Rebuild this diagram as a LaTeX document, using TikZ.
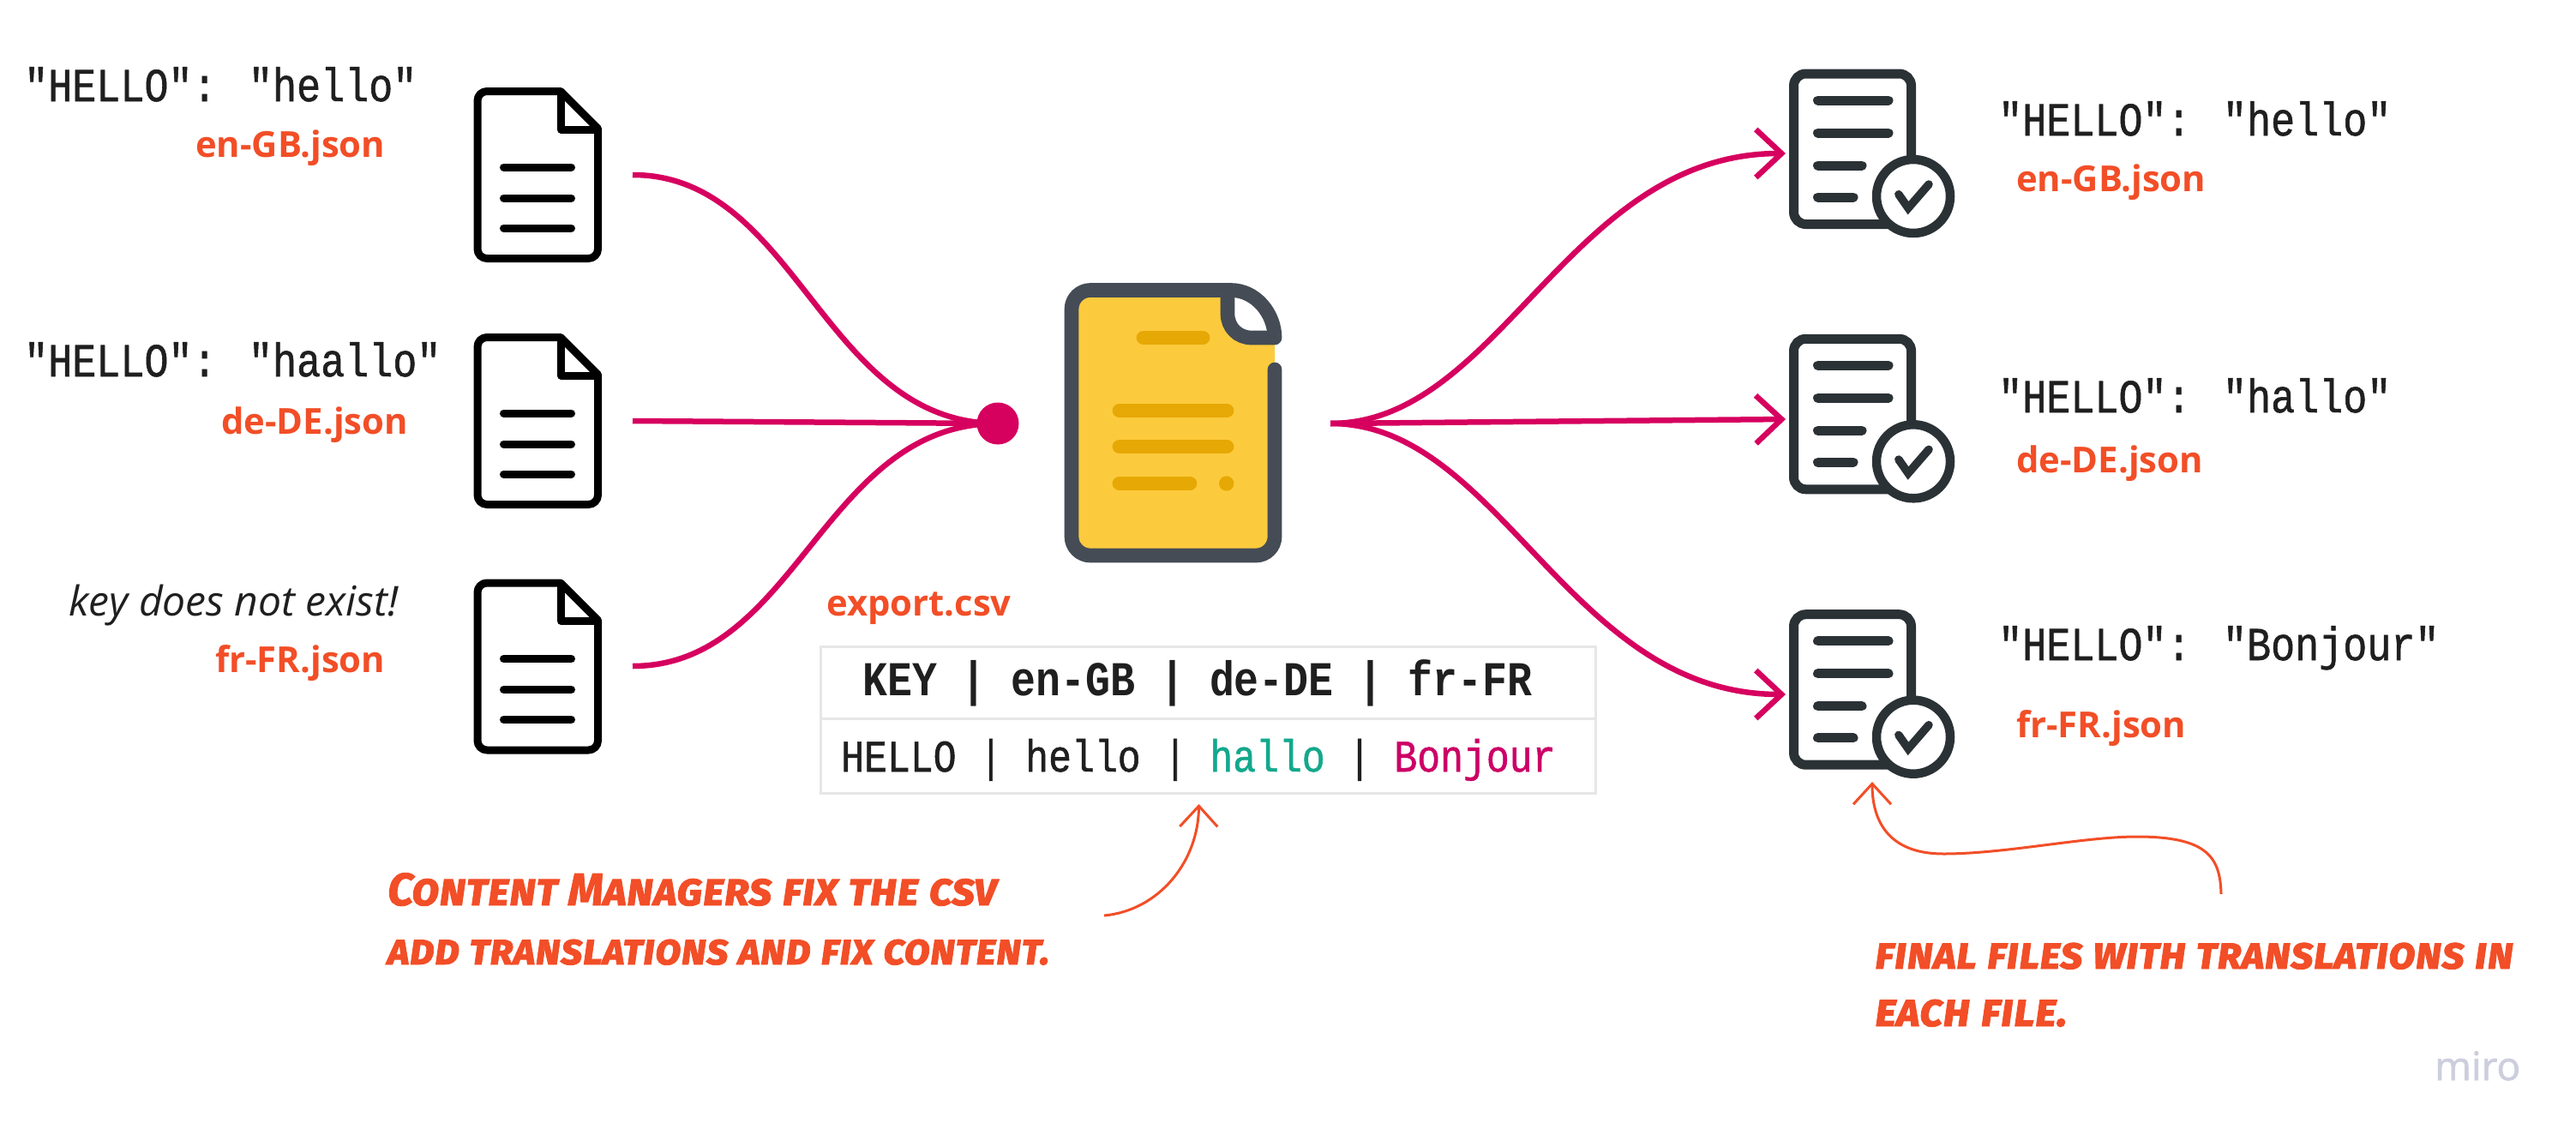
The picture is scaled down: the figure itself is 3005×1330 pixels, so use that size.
\documentclass[tikz,border=0pt]{standalone}
\usepackage{fontspec}
\usetikzlibrary{arrows.meta}
\setmainfont{Open Sans}
\newfontfamily\monof{Liberation Mono}[FakeStretch=0.85,FakeBold=1]
\newfontfamily\monob{Liberation Mono Bold}[FakeStretch=0.85]
\newfontfamily\handf{Fira Sans Bold Italic}[Letters=SmallCaps,FakeBold=1.5]
\newfontfamily\mirof{Open Sans}[FakeBold=1.5]
\definecolor{orangeT}{HTML}{F24E27}
\definecolor{magentaL}{HTML}{D6005F}
\definecolor{slateD}{HTML}{454C56}
\definecolor{yellowD}{HTML}{FCCA3D}
\definecolor{yellowL}{HTML}{E6A804}
\definecolor{inkD}{HTML}{2B3236}
\definecolor{tealT}{HTML}{14A88C}
\definecolor{rowT}{HTML}{CC0066}
\definecolor{greyB}{HTML}{E6E6E6}
\definecolor{miroG}{HTML}{CDCEDD}
\tikzset{
 codetxt/.style={anchor=base west,inner sep=0pt,font=\monof\fontsize{55}{58}\selectfont,text=black!88},
 filelbl/.style={anchor=base west,inner sep=0pt,font=\bfseries\fontsize{41.8}{44}\selectfont,text=orangeT},
 handtxt/.style={anchor=base west,inner sep=0pt,text=orangeT},
 flow/.style={draw=magentaL,line width=6.5pt,line cap=butt},
 flowarrow/.style={flow,-{Straight Barb[length=30pt,width=56pt,line width=6.5pt]}},
 note/.style={draw=orangeT,line width=3pt,-{Straight Barb[length=24pt,width=44pt,line width=3pt]}},
 docpic/.pic={
  \draw[black,line width=9pt,line join=round,fill=white]
    (654,106.5) [rounded corners=11pt] -- (557,106.5) -- (557,301.5) -- (697.5,301.5) [sharp corners] -- (697.5,150) -- cycle;
  \draw[black,line width=9pt,line join=round] (654.5,106) -- (654.5,151) -- (697.5,151);
  \foreach \yy in {195,231,266} \draw[black,line width=9pt,line cap=round] (587.5,\yy) -- (666.5,\yy);
 },
 checkpic/.pic={
  \draw[inkD,line width=11pt,rounded corners=14pt,fill=white] (2092.5,86) rectangle (2229.5,261.5);
  \foreach \yy/\xe in {117/2203,155/2203,193/2172,230/2162} \draw[inkD,line width=11pt,line cap=round] (2120.5,\yy) -- (\xe,\yy);
  \draw[inkD,line width=10.5pt,fill=white] (2232,229) circle[radius=43];
  \draw[inkD,line width=9.5pt,line join=miter,line cap=round] (2214.8,226.7) -- (2226,242.7) -- (2250,215);
 }
}
\begin{document}
\begin{tikzpicture}[x=1pt,y=-1pt]
\useasboundingbox (0,0) rectangle (3005,1330);
\fill[white] (0,0) rectangle (3005,1330);

% left documents
\pic at (0,0) {docpic};
\pic at (0,287) {docpic};
\pic at (0,573.5) {docpic};
% right documents
\pic at (0,0) {checkpic};
\pic at (0,309.3) {checkpic};
\pic at (0,630.7) {checkpic};

% central document
\fill[yellowD] (1436,338.5) [rounded corners=23pt] -- (1250,338.5) -- (1250,648) -- (1487,648) [sharp corners] -- (1487,394) -- cycle;
\fill[white] (1439,338.5) .. controls (1468,340) and (1487,368) .. (1487,394) -- (1457,394) .. controls (1442,394) and (1432,378) .. (1432,366) -- cycle;
\draw[slateD,line width=16.7pt,line join=round,line cap=round]
  (1487,431) [rounded corners=22pt] -- (1487,648) -- (1250,648) -- (1250,338.5) [sharp corners] -- (1436,338.5)
  .. controls (1465,338.5) and (1487,366) .. (1487,394) -- (1460,394) .. controls (1444,394) and (1432,382) .. (1432,366) -- (1432,340);
\foreach \ya/\xa/\xb in {394/1334/1403,479/1306/1431,521/1306/1431,564/1306/1388}
  \draw[yellowL,line width=16.7pt,line cap=round] (\xa,\ya) -- (\xb,\ya);
\fill[yellowL] (1430.7,564) circle[radius=8.7];

% hub
\node[circle,fill=magentaL,inner sep=0pt,minimum size=49pt] (hub) at (1164,494) {};
\coordinate (csvout) at (1552,494);
\coordinate (l1) at (738,204);
\coordinate (l2) at (738,491);
\coordinate (l3) at (738,777);
\coordinate (r1) at (2083,179);
\coordinate (r2) at (2083,489);
\coordinate (r3) at (2083,810);

\draw[flow] (l1) .. controls (930,204) and (960,494) .. (hub.center);
\draw[flow] (l2) -- (hub.center);
\draw[flow] (l3) .. controls (930,777) and (960,494) .. (hub.center);
\draw[flowarrow] (csvout) .. controls (1750,494) and (1830,179) .. (r1);
\draw[flowarrow] (csvout) -- (r2);
\draw[flowarrow] (csvout) .. controls (1750,494) and (1830,810) .. (r3);

% left texts
\node[codetxt] (t1) at (28,118) {"HELLO": "hello"};
\node[filelbl] (f1) at (228,183) {en-GB.json};
\node[codetxt] (t2) at (28,439) {"HELLO": "haallo"};
\node[filelbl] (f2) at (258,506) {de-DE.json};
\node[anchor=base west,inner sep=0pt,font=\itshape\fontsize{48}{50}\selectfont,text=black!88] (t3) at (80,718.6) {key does not exist!};
\node[filelbl] (f3) at (251,784) {fr-FR.json};

% right texts
\node[codetxt] (t4) at (2331,158) {"HELLO": "hello"};
\node[filelbl] (f4) at (2352,223) {en-GB.json};
\node[codetxt] (t5) at (2331,481) {"HELLO": "hallo"};
\node[filelbl] (f5) at (2352,551) {de-DE.json};
\node[codetxt] (t6) at (2331,770) {"HELLO": "Bonjour"};
\node[filelbl] (f6) at (2352,860) {fr-FR.json};

% table
\node[filelbl] (csvname) at (964,718) {export.csv};
\draw[greyB,line width=3pt] (957,754) rectangle (1861,925);
\draw[greyB,line width=3pt] (957,838) -- (1861,838);
\node[anchor=base west,inner sep=0pt,font=\monob\fontsize{56.7}{58}\selectfont,text=black!88] (hdr) at (1006,811) {KEY | en-GB | de-DE | fr-FR};
\node[anchor=base west,inner sep=0pt,font=\monof\fontsize{52.7}{56}\selectfont,text=black!88] (row) at (981,900) {HELLO | hello | \textcolor{tealT}{hallo} | \textcolor{rowT}{Bonjour}};

% notes
\coordinate (n1s) at (1288,1068);
\coordinate (n1e) at (1398.5,938);
\coordinate (n2s) at (2591,1043);
\coordinate (n2e) at (2184,912);
\draw[note] (n1s) .. controls (1352,1062) and (1398,1005) .. (n1e);
\draw[note] (n2s) .. controls (2590,1000) and (2575,976) .. (2493,976) .. controls (2430,976) and (2340,996) .. (2267,996) .. controls (2205,996) and (2184,960) .. (n2e);
\node[handtxt,font=\handf\fontsize{53.2}{58}\selectfont] (h1) at (452,1056) {Content Managers fix the csv};
\node[handtxt,font=\handf\fontsize{50.2}{58}\selectfont] (h2) at (452,1125) {add translations and fix content.};
\node[handtxt,font=\handf\fontsize{52}{58}\selectfont] (h3) at (2187,1130) {final files with translations in};
\node[handtxt,font=\handf\fontsize{53.5}{58}\selectfont] (h4) at (2187,1197) {each file.};
\node[anchor=base west,inner sep=0pt,font=\mirof\fontsize{46}{50}\selectfont,text=miroG] (miro) at (2840,1260) {miro};
\end{tikzpicture}
\end{document}
